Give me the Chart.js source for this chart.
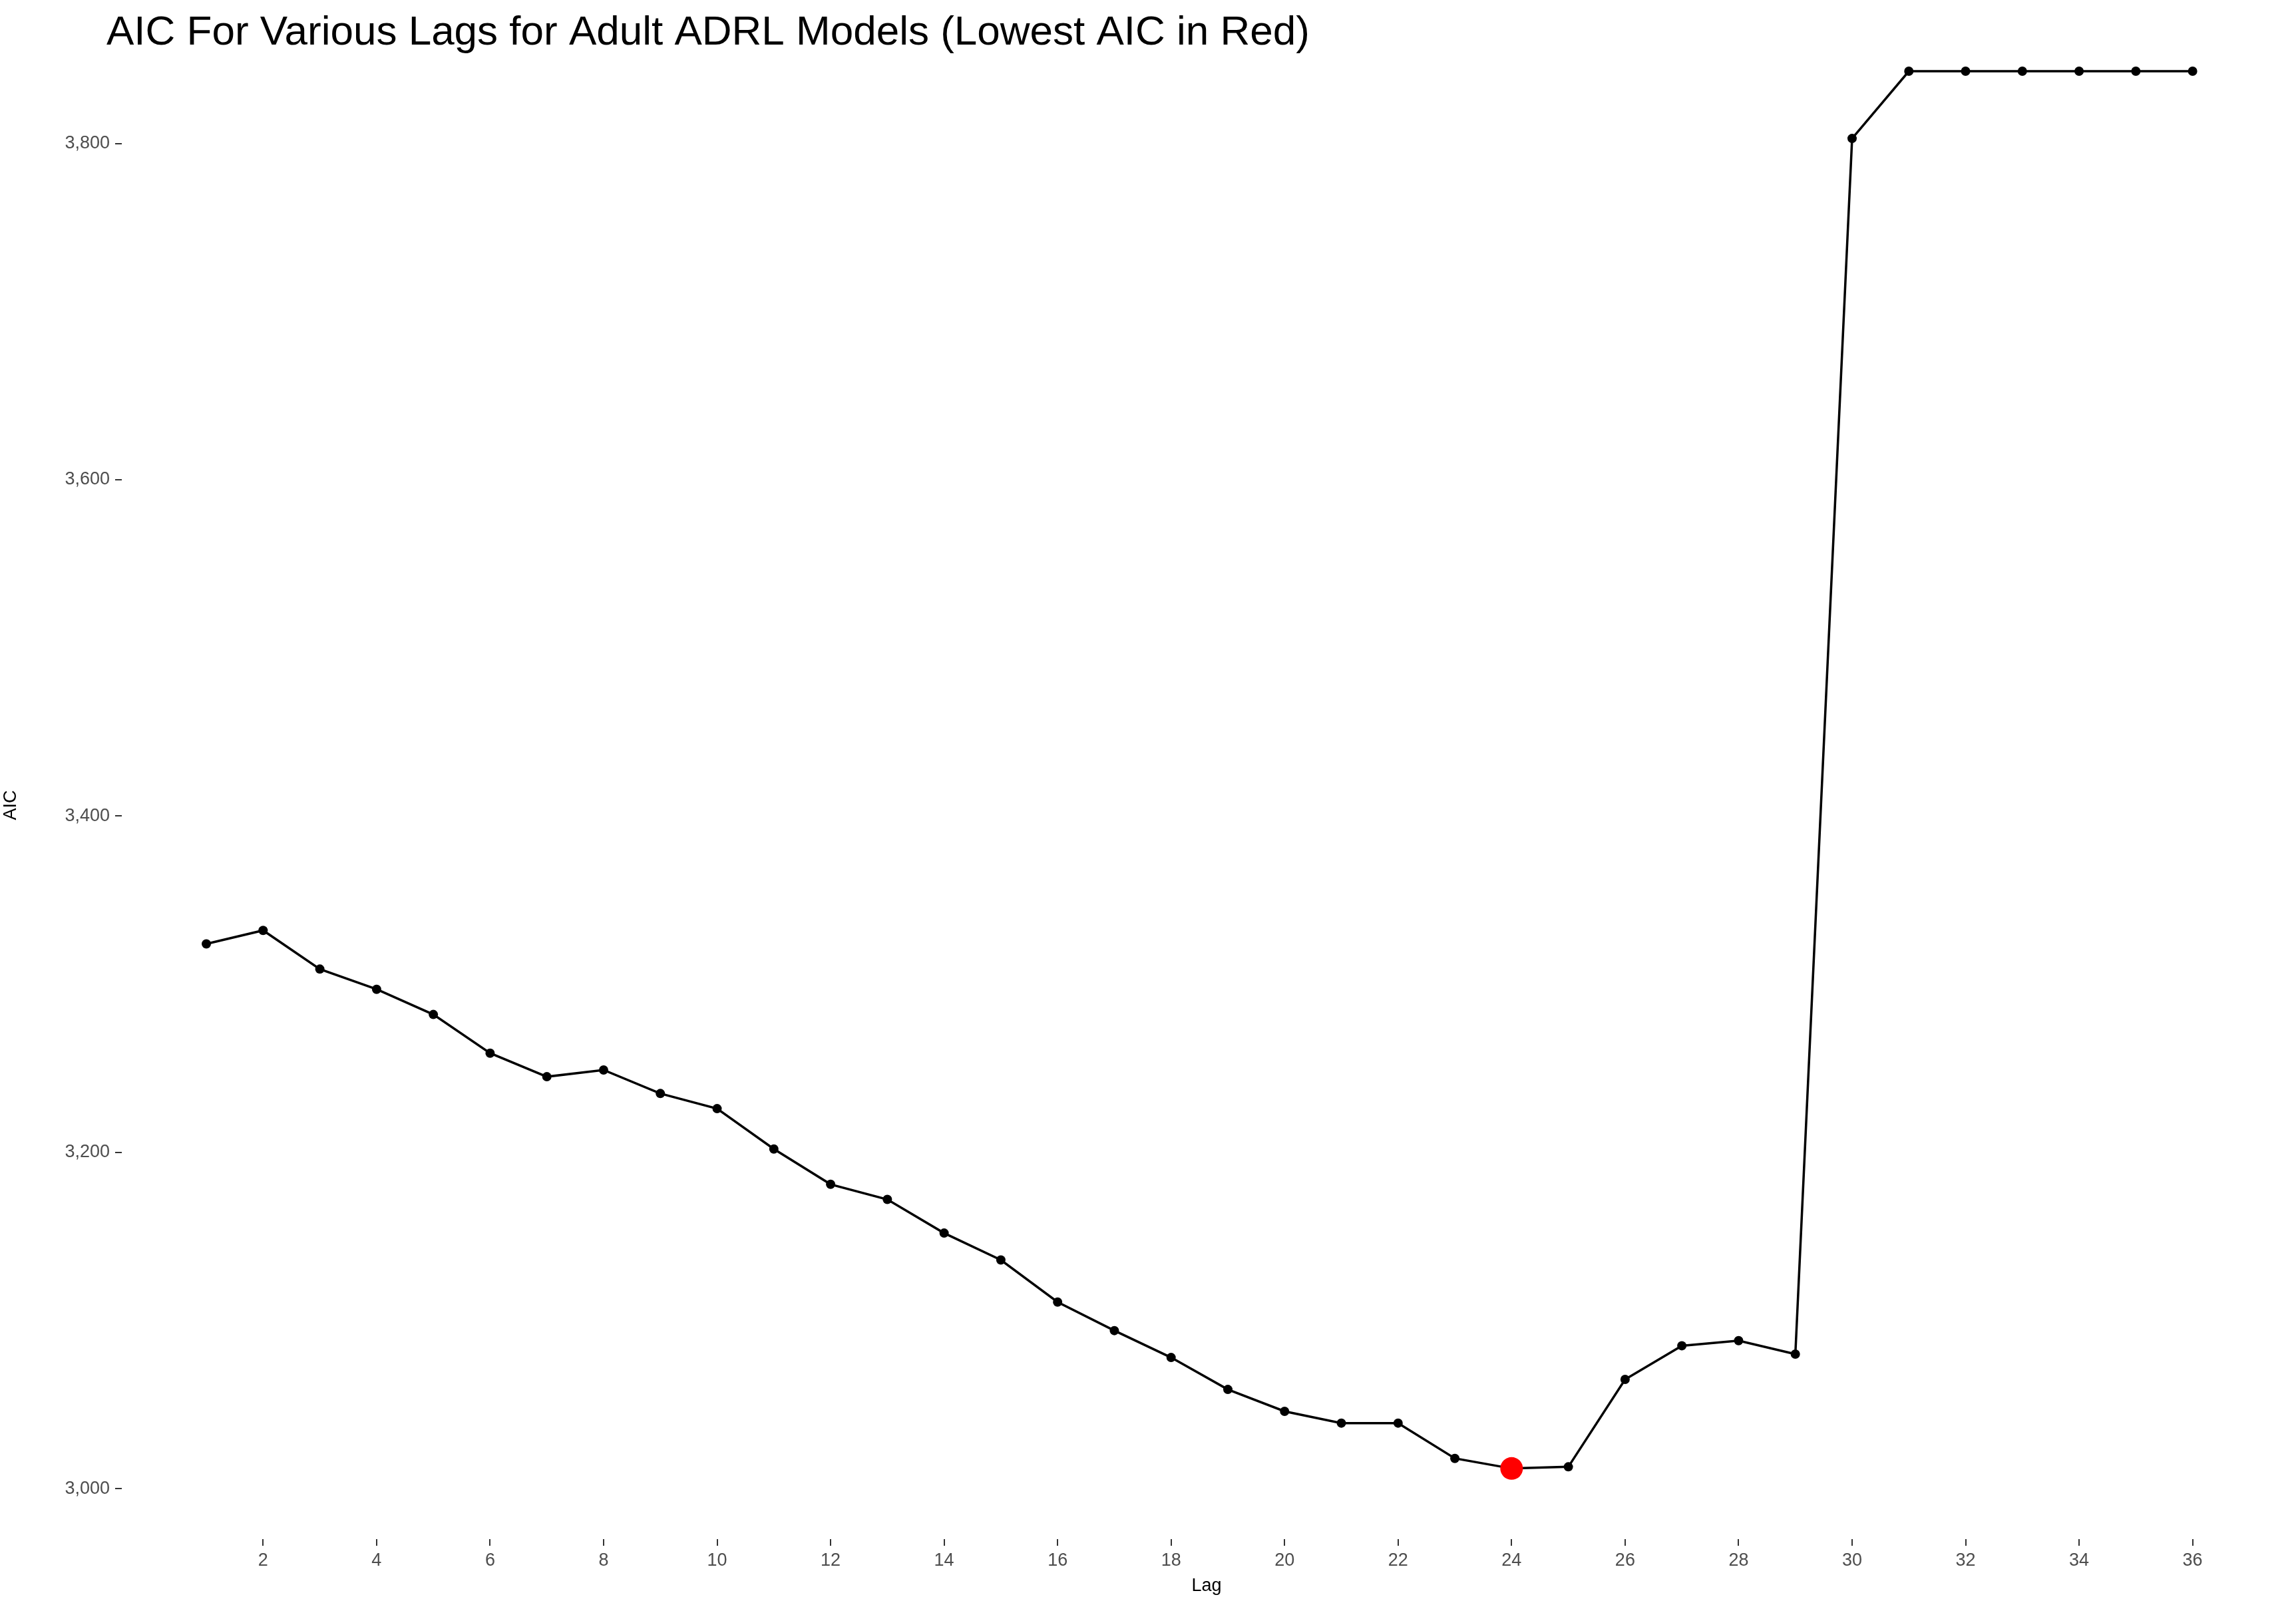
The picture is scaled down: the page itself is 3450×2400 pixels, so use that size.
<!DOCTYPE html>
<html><head><meta charset="utf-8">
<script src="https://cdn.jsdelivr.net/npm/chart.js@4"></script>
<style>html,body{margin:0;background:#fff}</style>
</head><body>
<canvas id="c" width="3450" height="2400"></canvas>
<script>
const lags = [1,2,3,4,5,6,7,8,9,10,11,12,13,14,15,16,17,18,19,20,21,22,23,24,25,26,27,28,29,30,31,32,33,34,35,36];
const aic = [3324,3332,3309,3297,3282,3259,3245,3249,3235,3226,3202,3181,3172,3152,3136,3111,3094,3078,3059,3046,3039,3039,3018,3012,3013,3065,3085,3088,3080,3803,3843,3843,3843,3843,3843,3843];
const xTicks = [2,4,6,8,10,12,14,16,18,20,22,24,26,28,30,32,34,36];
const yTicks = [3000,3200,3400,3600,3800];
const titleText = 'AIC For Various Lags for Adult ADRL Models (Lowest AIC in Red)';

const minVal = Math.min(...aic);
const pts = lags.map((l,i)=>({x:l,y:aic[i]}));
const font = 'Arial, "Liberation Sans", sans-serif';

const titlePlugin = {
  id:'topTitle',
  afterDraw(chart){
    const ctx = chart.ctx;
    ctx.save();
    ctx.fillStyle = '#000';
    ctx.font = '62px ' + font;
    ctx.textBaseline = 'middle';
    ctx.fillText(titleText, 160, 50);
    ctx.restore();
  }
};

new Chart(document.getElementById('c'), {
  type:'line',
  data:{datasets:[{
    data:pts,
    borderColor:'#000',
    borderWidth:3.5,
    tension:0,
    pointRadius:aic.map(v=>v===minVal?17:7),
    pointBackgroundColor:aic.map(v=>v===minVal?'#ff0000':'#000'),
    pointBorderColor:aic.map(v=>v===minVal?'#ff0000':'#000'),
    pointBorderWidth:0,
    clip:false
  }]},
  options:{
    responsive:false, animation:false, devicePixelRatio:1,
    layout:{padding:{top:107,left:0,right:0,bottom:0}},
    plugins:{legend:{display:false},tooltip:{enabled:false}},
    scales:{
      x:{type:'linear',min:-0.49,max:37.74,
        afterBuildTicks(a){a.ticks = xTicks.map(v=>({value:v}));},
        afterFit(a){a.height = 87;},
        grid:{drawOnChartArea:false,tickLength:10,color:'#333',lineWidth:2},
        border:{display:false},
        ticks:{color:'#4d4d4d',font:{size:27,family:font},padding:6,maxRotation:0,autoSkip:false},
        title:{display:true,text:'Lag',color:'#000',font:{size:27,family:font},padding:{top:0,bottom:0}}
      },
      y:{type:'linear',min:2970,max:3843,
        afterBuildTicks(a){a.ticks = yTicks.map(v=>({value:v}));},
        afterFit(a){a.width = 183;},
        grid:{drawOnChartArea:false,tickLength:10,color:'#333',lineWidth:2},
        border:{display:false},
        ticks:{color:'#4d4d4d',font:{size:27,family:font},padding:8},
        title:{display:true,text:'AIC',color:'#000',font:{size:27,family:font},padding:{top:0,bottom:0}}
      }
    }
  },
  plugins:[titlePlugin]
});
</script>
</body></html>
